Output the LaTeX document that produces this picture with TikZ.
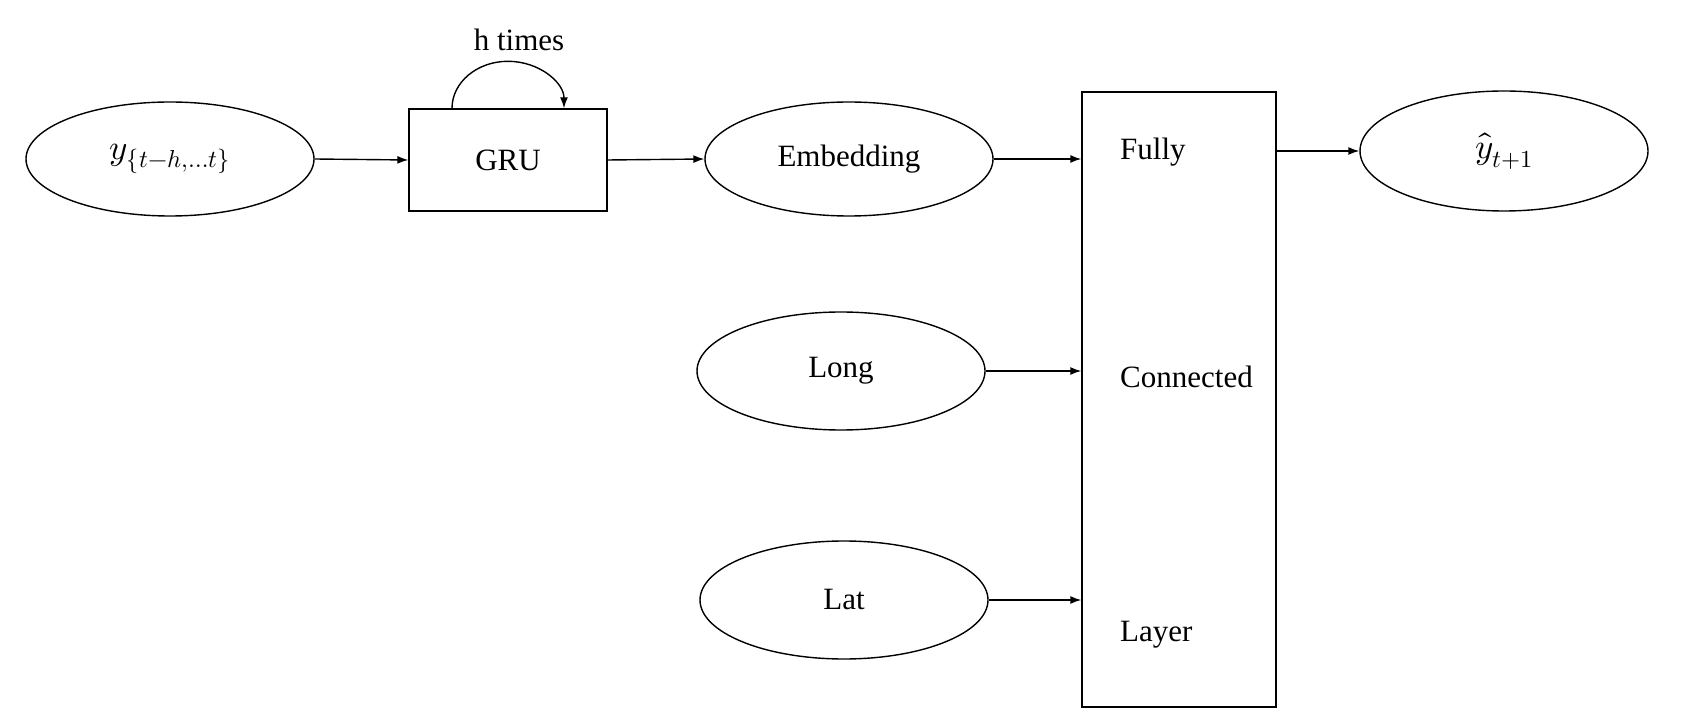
\documentclass[tikz,border=0pt]{standalone}
\usepackage{fontspec}
\usepackage{unicode-math}
\setmainfont{Liberation Serif}
\setmathfont{Latin Modern Math}
\usetikzlibrary{shapes.geometric,arrows.meta}
\begin{document}
\begin{tikzpicture}[x=1pt,y=1pt,
  every node/.style={font=\fontsize{31}{36}\selectfont},
  mathn/.style={font=\fontsize{35}{40}\selectfont},
  ell/.style={draw,line width=1.4pt,ellipse,inner sep=0pt,minimum width=288pt,minimum height=114pt},
  boxn/.style={draw,line width=1.4pt,rectangle,inner sep=0pt},
  arr/.style={line width=1.4pt,-{Latex[length=11pt,width=8pt]}},
  lbl/.style={anchor=west,inner sep=0pt}]
\useasboundingbox (0,0) rectangle (1686,726);
\node[ell,mathn] (yin) at (170,567) {$y_{\{t-h,\ldots t\}}$};
\node[boxn,minimum width=198pt,minimum height=102pt] (gru) at (508,566) {GRU};
\node[ell] (emb) at (849,567) {Embedding};
\node[ell,minimum height=118pt] (long) at (841,355) {Long};
\node[ell,minimum height=118pt] (lat) at (844,126) {Lat};
\node[boxn,minimum width=194pt,minimum height=615pt] (fc) at (1179,326.5) {};
\node[ell,mathn,minimum height=120pt] (out) at (1504,575) {$\hat{y}_{t+1}$};
\node[lbl] (fully) at (1120,574) {Fully};
\node[lbl] (conn) at (1120,349) {Connected};
\node[lbl] (layer) at (1120,91) {Layer};
\node (ht) at (519,686) {h times};
\coordinate (ls) at ([xshift=-56pt]gru.north);
\draw[arr] (ls) arc[start angle=180,end angle=0,x radius=56pt,y radius=47pt];
\draw[arr] (yin.east) -- (gru.west);
\draw[arr] (gru.east) -- (emb.west);
\draw[arr] (emb.east) -- (emb.east -| fc.west);
\draw[arr] (long.east) -- (long.east -| fc.west);
\draw[arr] (lat.east) -- (lat.east -| fc.west);
\draw[arr] (fc.east |- out.west) -- (out.west);
\end{tikzpicture}
\end{document}
